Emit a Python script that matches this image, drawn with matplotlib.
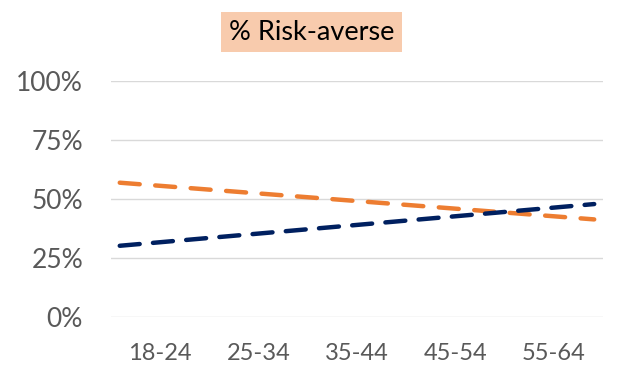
import numpy as np
import matplotlib.pyplot as plt

# age groups and share of risk-averse respondents (%)
age_groups = ['18-24', '25-34', '35-44', '45-54', '55-64']
orange_vals = [55.6, 52.4, 49.2, 45.9, 42.7]
navy_vals = [31.7, 35.4, 39.0, 42.7, 46.4]
y_ticks = [0, 25, 50, 75, 100]

plt.rcParams['font.family'] = ['Lato', 'DejaVu Sans']

fig = plt.figure(figsize=(6.23, 3.81), dpi=100)
ax = fig.add_axes([0.178, 0.168, 0.79, 0.619])

x = np.arange(len(age_groups))
# linear trendlines, extended a bit past first and last category
xx = np.array([-0.41, len(age_groups) - 1 + 0.41])
for vals, col, dash in [(orange_vals, '#ED7D31', (4.5, 3.5)),
                        (navy_vals, '#002060', (4.5, 3.0))]:
    k, b = np.polyfit(x, vals, 1)
    ax.plot(xx, k * xx + b, color=col, lw=3.2, ls=(0, dash),
            dash_capstyle='round', solid_capstyle='round')

ax.set_xlim(-0.5, len(age_groups) - 0.5)
ax.set_ylim(0, 100)
ax.set_yticks(y_ticks)
ax.set_yticklabels([f'{t}%' for t in y_ticks])
ax.set_xticks(x)
ax.set_xticklabels(age_groups)
ax.grid(axis='y', color='#D9D9D9', lw=1)
ax.set_axisbelow(True)
for s in ax.spines.values():
    s.set_visible(False)
ax.tick_params(axis='y', length=0, pad=20, labelsize=19, labelcolor='#595959')
ax.tick_params(axis='x', length=0, pad=19, labelsize=17, labelcolor='#595959')

fig.text(0.5, 0.915, '% Risk-averse', ha='center', va='center', fontsize=19.5,
         color='black',
         bbox=dict(boxstyle='square,pad=0.28', fc='#F8CBAD', ec='none'))

fig.savefig('out.png', dpi=100)
